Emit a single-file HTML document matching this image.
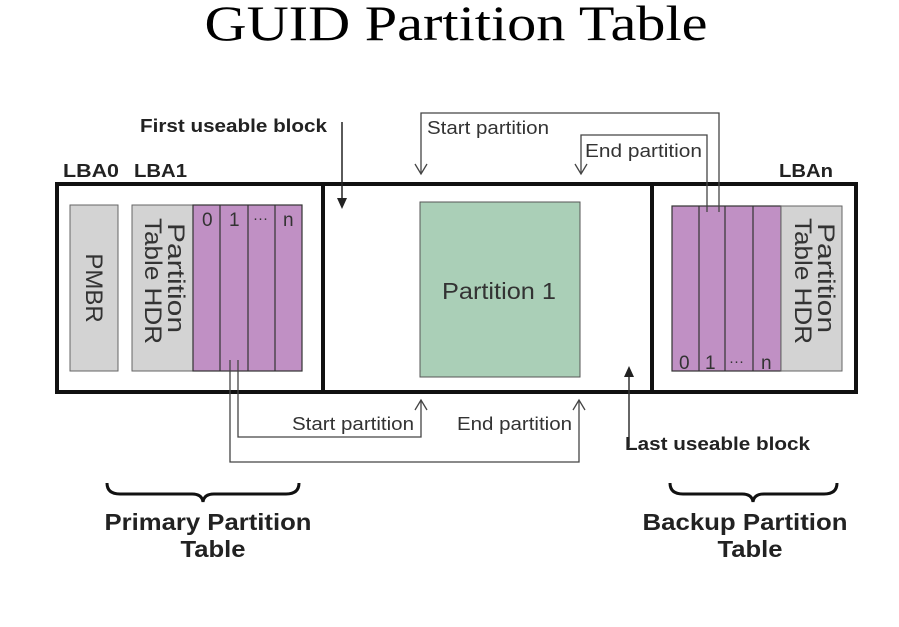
<!DOCTYPE html>
<html><head><style>
html,body{margin:0;padding:0;background:#fff;}
svg{display:block;}
text{font-family:"Liberation Sans",Arial,sans-serif;}
</style></head><body>
<svg width="899" height="627" viewBox="0 0 899 627" xmlns="http://www.w3.org/2000/svg">
<text x="456" y="40" text-anchor="middle" font-size="50" textLength="503" lengthAdjust="spacingAndGlyphs" style="font-family:'Liberation Serif',serif">GUID Partition Table</text>

<!-- labels -->
<text x="140" y="132" font-size="18" font-weight="bold" fill="#222" textLength="187" lengthAdjust="spacingAndGlyphs">First useable block</text>
<text x="63" y="177" font-size="18" font-weight="bold" fill="#222" textLength="56" lengthAdjust="spacingAndGlyphs">LBA0</text>
<text x="134" y="177" font-size="18" font-weight="bold" fill="#222" textLength="53" lengthAdjust="spacingAndGlyphs">LBA1</text>
<text x="779" y="177" font-size="18" font-weight="bold" fill="#222" textLength="54" lengthAdjust="spacingAndGlyphs">LBAn</text>

<!-- outer box -->
<rect x="57" y="184" width="799" height="208" fill="none" stroke="#111" stroke-width="4"/>
<line x1="323" y1="184" x2="323" y2="392" stroke="#111" stroke-width="4"/>
<line x1="652" y1="184" x2="652" y2="392" stroke="#111" stroke-width="4"/>

<!-- left -->
<rect x="70" y="205" width="48" height="166" fill="#d3d3d3" stroke="#666" stroke-width="1"/>
<text transform="translate(86,288) rotate(90)" text-anchor="middle" font-size="24" fill="#333">PMBR</text>
<rect x="132" y="205" width="61" height="166" fill="#d3d3d3" stroke="#666" stroke-width="1"/>
<text transform="translate(168,278) rotate(90)" text-anchor="middle" font-size="24" fill="#333" textLength="110" lengthAdjust="spacingAndGlyphs">Partition</text>
<text transform="translate(145,281) rotate(90)" text-anchor="middle" font-size="24" fill="#333" textLength="126" lengthAdjust="spacingAndGlyphs">Table HDR</text>
<rect x="193" y="205" width="109" height="166" fill="#c090c4" stroke="#333" stroke-width="1.2"/>
<line x1="220" y1="205" x2="220" y2="371" stroke="#333" stroke-width="1.2"/>
<line x1="248" y1="205" x2="248" y2="371" stroke="#333" stroke-width="1.2"/>
<line x1="275" y1="205" x2="275" y2="371" stroke="#333" stroke-width="1.2"/>
<text x="202" y="226" font-size="19" fill="#333">0</text>
<text x="229" y="226" font-size="19" fill="#333">1</text>
<text x="253" y="223" font-size="15" fill="#333">···</text>
<text x="283" y="226" font-size="19" fill="#333">n</text>

<!-- middle -->
<rect x="420" y="202" width="160" height="175" fill="#aacfb7" stroke="#555" stroke-width="1"/>
<text x="499" y="299" text-anchor="middle" font-size="23" fill="#333" textLength="114" lengthAdjust="spacingAndGlyphs">Partition 1</text>

<!-- right -->
<rect x="672" y="206" width="109" height="165" fill="#c090c4" stroke="#333" stroke-width="1.2"/>
<line x1="699" y1="206" x2="699" y2="371" stroke="#333" stroke-width="1.2"/>
<line x1="725" y1="206" x2="725" y2="371" stroke="#333" stroke-width="1.2"/>
<line x1="753" y1="206" x2="753" y2="371" stroke="#333" stroke-width="1.2"/>
<rect x="781" y="206" width="61" height="165" fill="#d3d3d3" stroke="#666" stroke-width="1"/>
<text transform="translate(818,278) rotate(90)" text-anchor="middle" font-size="24" fill="#333" textLength="110" lengthAdjust="spacingAndGlyphs">Partition</text>
<text transform="translate(795,281) rotate(90)" text-anchor="middle" font-size="24" fill="#333" textLength="126" lengthAdjust="spacingAndGlyphs">Table HDR</text>
<text x="679" y="369" font-size="19" fill="#333">0</text>
<text x="705" y="369" font-size="19" fill="#333">1</text>
<text x="729" y="366" font-size="15" fill="#333">···</text>
<text x="761" y="369" font-size="19" fill="#333">n</text>

<!-- first useable arrow -->
<line x1="342" y1="122" x2="342" y2="200" stroke="#222" stroke-width="1.5"/>
<path d="M337,198 L347,198 L342,209 Z" fill="#222"/>
<!-- last useable arrow -->
<line x1="629" y1="447" x2="629" y2="375" stroke="#333" stroke-width="1.5"/>
<path d="M624,377 L634,377 L629,366 Z" fill="#222"/>
<text x="625" y="450" font-size="18" font-weight="bold" fill="#222" textLength="185" lengthAdjust="spacingAndGlyphs">Last useable block</text>

<!-- top connectors -->
<polyline points="719,212 719,113 421,113 421,174" fill="none" stroke="#444" stroke-width="1.3"/>
<path d="M415,164 L421,174 L427,164" fill="none" stroke="#444" stroke-width="1.3"/>
<text x="427" y="134" font-size="18" fill="#333" textLength="122" lengthAdjust="spacingAndGlyphs">Start partition</text>
<polyline points="707,212 707,135 581,135 581,174" fill="none" stroke="#444" stroke-width="1.3"/>
<path d="M575,164 L581,174 L587,164" fill="none" stroke="#444" stroke-width="1.3"/>
<text x="585" y="157" font-size="18" fill="#333" textLength="117" lengthAdjust="spacingAndGlyphs">End partition</text>

<!-- bottom connectors -->
<polyline points="238,360 238,437 421,437 421,400" fill="none" stroke="#444" stroke-width="1.3"/>
<path d="M415,410 L421,400 L427,410" fill="none" stroke="#444" stroke-width="1.3"/>
<text x="292" y="430" font-size="18" fill="#333" textLength="122" lengthAdjust="spacingAndGlyphs">Start partition</text>
<polyline points="230,360 230,462 579,462 579,400" fill="none" stroke="#444" stroke-width="1.3"/>
<path d="M573,410 L579,400 L585,410" fill="none" stroke="#444" stroke-width="1.3"/>
<text x="457" y="430" font-size="18" fill="#333" textLength="115" lengthAdjust="spacingAndGlyphs">End partition</text>

<!-- braces -->
<path d="M107,483 Q107,494 120,494 L192,494 Q202,494 203,502 Q204,494 214,494 L286,494 Q299,494 299,483" fill="none" stroke="#111" stroke-width="3"/>
<path d="M670,483 Q670,494 683,494 L742,494 Q752,494 753,502 Q754,494 764,494 L824,494 Q837,494 837,483" fill="none" stroke="#111" stroke-width="3"/>
<text x="208" y="530" text-anchor="middle" font-size="23" font-weight="bold" fill="#222" textLength="207" lengthAdjust="spacingAndGlyphs">Primary Partition</text>
<text x="213" y="557" text-anchor="middle" font-size="23" font-weight="bold" fill="#222" textLength="65" lengthAdjust="spacingAndGlyphs">Table</text>
<text x="745" y="530" text-anchor="middle" font-size="23" font-weight="bold" fill="#222" textLength="205" lengthAdjust="spacingAndGlyphs">Backup Partition</text>
<text x="750" y="557" text-anchor="middle" font-size="23" font-weight="bold" fill="#222" textLength="65" lengthAdjust="spacingAndGlyphs">Table</text>
</svg>
</body></html>
